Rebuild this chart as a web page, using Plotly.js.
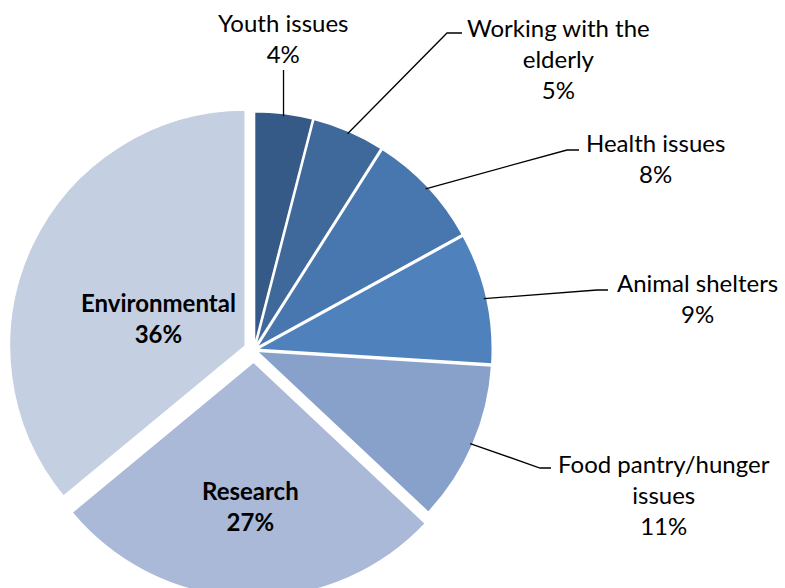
<!DOCTYPE html>
<html>
<head>
<meta charset="utf-8">
<script src="https://cdn.plot.ly/plotly-3.0.1.min.js"></script>
<style>
html,body{margin:0;padding:0;overflow:hidden;background:#fff;}
#chart{width:785px;height:598px;}
</style>
</head>
<body>
<div id="chart"></div>
<script>
// Data
var categories = ["Youth issues", "Working with the elderly", "Health issues", "Animal shelters", "Food pantry/hunger issues", "Research", "Environmental"];
var values = [4, 5, 8, 9, 11, 27, 36];
var labelLines = [["Youth issues"], ["Working with the", "elderly"], ["Health issues"], ["Animal shelters"], ["Food pantry/hunger", "issues"], ["Research"], ["Environmental"]];

// Styles
var colors = ["#355A88", "#3E699A", "#4876AE", "#4F81BD", "#87A1CB", "#AAB9D7", "#C4CFE2"];
var pulls = [0.01, 0.01, 0.01, 0.01, 0.01, 0.05, 0.04];
var W = 785, H = 598;
var CX = 254, CY = 350;
var boxHalf = (H - 102) / 2;
var maxPull = Math.max.apply(null, pulls);
var R = boxHalf / (1 + maxPull);

function px(x){ return x / W; }
function py(y){ return (H - y) / H; }

// label placement (pixel positions of text centre), leader elbow
var labelPos = [
  {x: 283, y: 38, elbow: null},
  {x: 558, y: 58, elbow: [447, 33, 462, 33]},
  {x: 655, y: 158, elbow: [567, 150, 579, 150]},
  {x: 697, y: 298, elbow: [597, 290, 608, 290]},
  {x: 664, y: 494, elbow: [540, 468, 551, 468]},
  {x: 250, y: 506, inside: true},
  {x: 158, y: 318, inside: true}
];

var total = values.reduce(function(a,b){return a+b;}, 0);
var annotations = [];
var shapes = [];
var cum = 0;
for (var i = 0; i < values.length; i++) {
  var mid = (cum + values[i] / 2) / total * 2 * Math.PI;
  cum += values[i];
  var pct = Math.round(values[i] / total * 100) + "%";
  var lp = labelPos[i];
  var txt = labelLines[i].concat([pct]).join("<br>");
  annotations.push({
    xref: "paper", yref: "paper", x: px(lp.x), y: py(lp.y),
    xanchor: "center", yanchor: "middle", showarrow: false,
    text: lp.inside ? "<b>" + txt + "</b>" : txt,
    align: "center",
    font: {family: "Lato, 'Open Sans', sans-serif", size: 24, color: "#000"}
  });
  if (!lp.inside) {
    var rr = R * (1 + pulls[i]) - 3;
    var ex = CX + rr * Math.sin(mid);
    var ey = CY - rr * Math.cos(mid);
    var path;
    if (lp.elbow) {
      path = "M" + px(ex) + "," + py(ey) + " L" + px(lp.elbow[0]) + "," + py(lp.elbow[1]) + " L" + px(lp.elbow[2]) + "," + py(lp.elbow[3]);
    } else {
      path = "M" + px(ex) + "," + py(ey) + " L" + px(ex) + "," + py(lp.y + 32);
    }
    shapes.push({type: "path", xref: "paper", yref: "paper", path: path, line: {color: "#000", width: 1.3}});
  }
}

var trace = {
  type: "pie",
  labels: categories,
  values: values,
  sort: false,
  direction: "clockwise",
  rotation: 0,
  pull: pulls,
  textinfo: "none",
  hoverinfo: "label+percent",
  marker: {colors: colors, line: {color: "#ffffff", width: 2}},
  domain: {x: [0, 2 * CX / W], y: [0, (H - 102) / H]},
  showlegend: false
};

var layout = {
  width: W, height: H,
  margin: {l: 0, r: 0, t: 0, b: 0},
  paper_bgcolor: "#ffffff",
  showlegend: false,
  annotations: annotations,
  shapes: shapes
};

Plotly.newPlot("chart", [trace], layout, {displayModeBar: false, staticPlot: true});
</script>
</body>
</html>
